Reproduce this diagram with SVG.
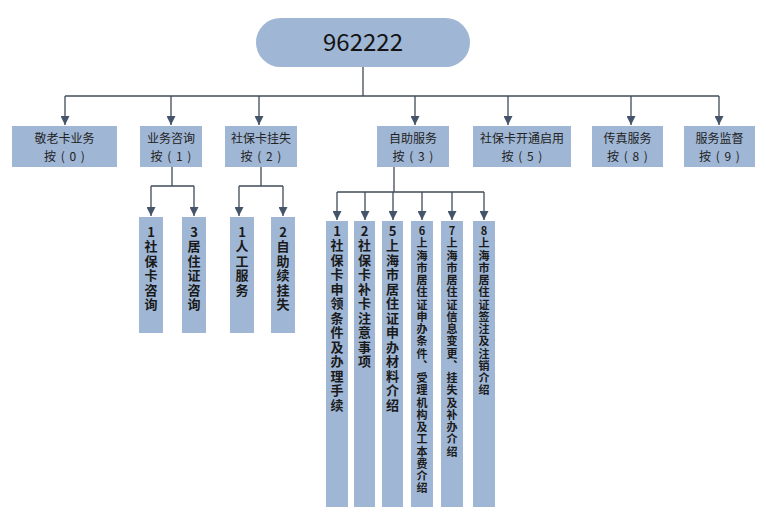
<svg xmlns="http://www.w3.org/2000/svg" width="766" height="524" viewBox="0 0 766 524">
<style>
.bg{fill:#ffffff}
.box{fill:#9fb6d5}
.t1{font-family:"Noto Sans CJK SC","Liberation Sans",sans-serif;font-size:12px;fill:#222;text-anchor:middle}
.t2{letter-spacing:1px}
.tv{font-family:"Noto Sans CJK SC","Liberation Sans",sans-serif;font-weight:bold;fill:#1a1a1a;writing-mode:vertical-rl;text-orientation:upright}
.fa{font-size:13px;letter-spacing:1.4px}
.fc{font-size:13px;letter-spacing:1.5px}
.fb{font-size:11px;letter-spacing:1.25px}
.root{font-family:"Noto Sans CJK SC","Liberation Sans",sans-serif;font-size:24px;fill:#141414;text-anchor:middle}
.ln{fill:none;stroke:#404b5a;stroke-width:1.3}
.ar{fill:none;stroke:#404b5a;stroke-width:1.3;marker-end:url(#ah)}
</style>
<defs>
<marker id="ah" markerUnits="userSpaceOnUse" markerWidth="9" markerHeight="9" refX="9" refY="4.5" orient="auto">
<path d="M0,0 L9,4.5 L0,9 z" fill="#44546a"/>
</marker>
</defs>
<rect class="bg" x="0" y="0" width="766" height="524"/>
<g id="connectors">
<path class="ln" d="M363 67 V96"/>
<path class="ln" d="M65 96 H719"/>
<path class="ar" d="M65 96 V125"/>
<path class="ar" d="M171 96 V125"/>
<path class="ar" d="M259 96 V125"/>
<path class="ar" d="M415 96 V125"/>
<path class="ar" d="M508 96 V125"/>
<path class="ar" d="M631 96 V125"/>
<path class="ar" d="M719 96 V125"/>
<path class="ln" d="M172 167 V186 M151 186 H194"/>
<path class="ar" d="M151 186 V216"/>
<path class="ar" d="M194 186 V216"/>
<path class="ln" d="M261 167 V186 M239 186 H283"/>
<path class="ar" d="M239 186 V216"/>
<path class="ar" d="M283 186 V216"/>
<path class="ln" d="M394 167 V192 M337 192 H484"/>
<path class="ar" d="M337 192 V220"/>
<path class="ar" d="M365 192 V220"/>
<path class="ar" d="M393 192 V220"/>
<path class="ar" d="M422 192 V220"/>
<path class="ar" d="M452 192 V220"/>
<path class="ar" d="M484 192 V220"/>
</g>
<g id="root">
<rect class="box" x="256" y="18" width="214" height="49" rx="24.5"/>
<text class="root" x="363" y="51">962222</text>
</g>
<g id="n0">
<rect class="box" x="12" y="126" width="105" height="41"/>
<text class="t1" x="64.5" y="142.5">敬老卡业务</text>
<text class="t1 t2" x="65" y="160.5">按 ( 0 )</text>
</g>
<g id="n1">
<rect class="box" x="140" y="126" width="62" height="41"/>
<text class="t1" x="171" y="142.5">业务咨询</text>
<text class="t1 t2" x="171.5" y="160.5">按 ( 1 )</text>
</g>
<g id="n2">
<rect class="box" x="225" y="126" width="72" height="41"/>
<text class="t1" x="261" y="142.5">社保卡挂失</text>
<text class="t1 t2" x="261.5" y="160.5">按 ( 2 )</text>
</g>
<g id="n3">
<rect class="box" x="377" y="126" width="72" height="41"/>
<text class="t1" x="413" y="142.5">自助服务</text>
<text class="t1 t2" x="413.5" y="160.5">按 ( 3 )</text>
</g>
<g id="n5">
<rect class="box" x="473" y="126" width="98" height="41"/>
<text class="t1" x="522" y="142.5">社保卡开通启用</text>
<text class="t1 t2" x="522.5" y="160.5">按 ( 5 )</text>
</g>
<g id="n8">
<rect class="box" x="592" y="126" width="71" height="41"/>
<text class="t1" x="627.5" y="142.5">传真服务</text>
<text class="t1 t2" x="628" y="160.5">按 ( 8 )</text>
</g>
<g id="n9">
<rect class="box" x="684" y="126" width="71" height="41"/>
<text class="t1" x="719.5" y="142.5">服务监督</text>
<text class="t1 t2" x="720" y="160.5">按 ( 9 )</text>
</g>
<g id="n1_1">
<rect class="box" x="139" y="217" width="24" height="116"/>
<text class="tv fa" x="151" y="225.5">1社保卡咨询</text>
</g>
<g id="n1_3">
<rect class="box" x="182" y="217" width="24" height="116"/>
<text class="tv fa" x="194" y="225.5">3居住证咨询</text>
</g>
<g id="n2_1">
<rect class="box" x="230" y="217" width="24" height="116"/>
<text class="tv fa" x="242" y="225.5">1人工服务</text>
</g>
<g id="n2_2">
<rect class="box" x="271" y="217" width="24" height="116"/>
<text class="tv fa" x="283" y="225.5">2自助续挂失</text>
</g>
<g id="n3_1">
<rect class="box" x="326" y="221" width="22" height="286"/>
<text class="tv fc" x="337" y="224.5">1社保卡申领条件及办理手续</text>
</g>
<g id="n3_2">
<rect class="box" x="354" y="221" width="21" height="286"/>
<text class="tv fc" x="364.5" y="224.5">2社保卡补卡注意事项</text>
</g>
<g id="n3_5">
<rect class="box" x="382" y="221" width="21" height="286"/>
<text class="tv fc" x="392.5" y="224.5">5上海市居住证申办材料介绍</text>
</g>
<g id="n3_6">
<rect class="box" x="411" y="221" width="22" height="286"/>
<text class="tv fb" x="422" y="225.5">6上海市居住证申办条件、受理机构及工本费介绍</text>
</g>
<g id="n3_7">
<rect class="box" x="441" y="221" width="22" height="286"/>
<text class="tv fb" x="452" y="225.5">7上海市居住证信息变更、挂失及补办介绍</text>
</g>
<g id="n3_8">
<rect class="box" x="473" y="221" width="22" height="286"/>
<text class="tv fb" x="484" y="225.5">8上海市居住证签注及注销介绍</text>
</g>
</svg>
